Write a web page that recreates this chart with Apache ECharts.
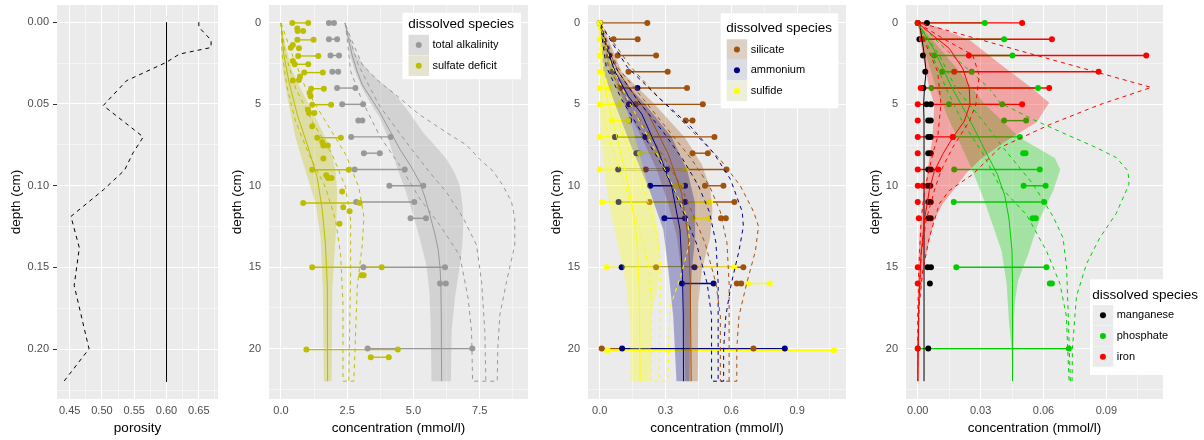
<!DOCTYPE html>
<html><head><meta charset="utf-8">
<script src="https://cdn.jsdelivr.net/npm/echarts@6/dist/echarts.min.js"></script>
<style>html,body{margin:0;padding:0;background:#fff}#c{width:1204px;height:440px}</style>
</head><body><div id="c"></div>
<script>
// ---------------- DATA ([value, depth]) ----------------
// Panel 1: porosity
const porosityDashed = [[0.650,0],[0.650,0.003],[0.669,0.011],[0.669,0.0155],[0.620,0.0195],[0.600,0.0245],[0.538,0.0358],[0.502,0.051],[0.564,0.0702],[0.548,0.080],[0.535,0.0905],[0.502,0.1026],[0.452,0.1188],[0.465,0.138],[0.457,0.161],[0.480,0.1998],[0.441,0.2197]];
const porositySolid = [[0.6,0],[0.6,0.22]];
const porTicksX = [0.45,0.50,0.55,0.60,0.65];
const porMinorX = [0.475,0.525,0.575,0.625,0.675];
const porTicksY = [0,0.05,0.10,0.15,0.20];
const porMinorY = [0.025,0.075,0.125,0.175,0.225];

// Panel 2: measured ranges [depth, v1, v2]
const alkRanges = [[0,1.81,2.00],[1,1.81,2.12],[2,1.87,2.19],[3,1.94,2.16],[4,2.12,2.81],[5,2.31,3.10],[6,2.92,3.07],[7,2.65,4.14],[8,3.13,3.73],[9,2.78,4.67],[10,4.09,5.37],[11,2.84,5.03],[12,4.89,5.47],[15,3.11,6.19],[16,6.00,6.22],[20,3.27,7.22]];
const sulfRanges = [[0,0.43,1.03],[1.04,0.62,1.23],[2.03,0.65,1.41],[2.54,0.52,1.03],[3.05,0.88,1.58],[4.04,1.14,1.62],[5.02,1.18,1.89],[7.05,1.37,2.26],[9.02,1.18,2.56],[11.06,0.84,2.97],[15.0,1.18,3.80],[20.06,0.96,4.41],[20.53,3.39,4.07]];
const sulfSingles = [[0.62,0.34],[0.63,0.5],[0.84,0.5],[0.45,1.36],[0.37,1.52],[0.68,1.56],[0.45,2.34],[0.72,3.29],[0.68,3.5],[0.45,3.54],[1.08,4.31],[1.12,4.51],[1.02,5.33],[1.06,5.53],[1.26,5.53],[1.18,6.34],[1.56,7.32],[1.60,7.52],[1.77,7.52],[1.60,8.33],[1.71,9.35],[1.78,9.53],[1.91,9.53],[2.31,10.35],[2.35,11.32],[2.59,11.57],[2.21,12.34],[3.04,15.5],[3.12,15.5]];
// Panel 2 model
const alkMean = [[2.42,0],[2.55,1],[2.69,2],[2.88,3],[3.07,3.8],[3.7,5.4],[4.1,6.6],[4.49,7.76],[4.9,8.8],[5.24,9.79],[5.45,10.8],[5.62,11.8],[5.8,12.9],[5.93,13.9],[6.0,15],[6.03,15.9],[6.05,18],[6.06,22]];
const alkLo = [[2.42,0],[2.5,1],[2.6,2],[2.8,3],[3.06,4],[3.4,5],[3.72,5.8],[4.05,7.1],[4.36,8.78],[4.7,10.3],[4.99,11.8],[5.25,13.3],[5.49,14.9],[5.6,16.5],[5.65,18.5],[5.68,22]];
const alkHi = [[2.42,0],[2.55,0.7],[2.82,1.96],[3.32,2.98],[3.8,3.7],[4.2,4.2],[4.7,5.2],[5.05,6.0],[5.37,6.74],[5.85,7.6],[6.25,8.37],[6.55,9.2],[6.75,10],[6.85,11.2],[6.88,12.4],[6.84,13.6],[6.75,14.9],[6.56,16.9],[6.44,18.9],[6.41,22]];
const alkAltLo = [[2.42,0],[2.5,1],[2.63,2.98],[3.07,4.81],[3.73,6.95],[4.49,8.78],[5.24,10.8],[5.99,12.4],[6.75,14.3],[7.06,16.9],[7.19,18.9],[7.23,22]];
const alkAltMean = [[2.42,0],[2.6,1],[2.9,2.5],[3.3,3.8],[3.73,5.12],[4.74,7.35],[5.62,9.2],[6.25,10.4],[6.88,12.0],[7.38,13.65],[7.57,15.9],[7.69,18.9],[7.73,22]];
const alkAltHi = [[2.42,0],[2.6,0.8],[3.07,2.58],[3.70,3.6],[4.39,4.5],[5.2,5.6],[6.25,6.74],[7.0,7.5],[7.5,8.37],[8.0,9.1],[8.38,10.0],[8.7,11.0],[8.82,12.0],[8.82,13.65],[8.51,15.9],[8.26,17.9],[8.18,20],[8.16,22]];
const sulfMean = [[0,0],[0.03,0.6],[0.113,1.97],[0.30,3.6],[0.616,5.63],[0.99,7.46],[1.37,9.49],[1.56,11.5],[1.68,13.6],[1.75,16.2],[1.76,22]];
const sulfLo = [[0,0],[0.02,1.5],[0.075,2.99],[0.30,5.02],[0.55,7.05],[0.93,9.09],[1.31,11.1],[1.50,13.2],[1.58,16.2],[1.62,22]];
const sulfHi = [[0,0],[0.15,1.2],[0.43,2.99],[0.80,4.21],[1.43,6.24],[1.87,7.66],[2.06,9.09],[2.12,10.3],[2.1,11.8],[2.06,13.2],[1.94,16.2],[1.91,22]];
const sulfAltLo = [[0,0],[0.05,1.97],[0.24,4.0],[0.55,6.04],[1.06,8.07],[1.68,10.1],[2.06,12.1],[2.25,14.2],[2.34,17.2],[2.34,22]];
const sulfAltMean = [[0,0],[0.18,1.97],[0.55,4.0],[1.18,6.04],[1.93,8.07],[2.44,10.1],[2.63,12.1],[2.63,15.2],[2.56,22]];
const sulfAltHi = [[0,0],[0.43,1.97],[0.93,4.0],[1.68,6.04],[2.44,8.07],[2.94,10.1],[3.13,11.9],[3.07,13.6],[2.88,16.2],[2.75,22]];

// Panel 3 measured
const silRanges = [[0,0.002,0.217],[1,0.063,0.173],[2,0.082,0.257],[3,0.131,0.310],[4,0.094,0.398],[5,0.164,0.470],[6,0.392,0.423],[7,0.07,0.523],[8,0.423,0.493],[9,0.21,0.578],[10,0.48,0.564],[11,0.227,0.614],[12,0.553,0.575],[15,0.257,0.655],[16,0.625,0.645],[20,0.009,0.701]];
const ammRanges = [[0,0.0,0.0],[2,0.043,0.043],[3,0.058,0.058],[4,0.172,0.172],[5,0.134,0.134],[6,0.134,0.134],[7,0.07,0.208],[8,0.167,0.177],[9,0.084,0.306],[10,0.23,0.389],[11,0.086,0.389],[12,0.295,0.389],[15,0.10,0.432],[16,0.375,0.519],[20,0.102,0.844]];
const sulfideRanges = [[0,0,0],[1,0,0],[2,0,0],[3,0,0],[4,0,0.043],[5,0,0.09],[6,0.055,0.13],[7,0,0.23],[8,0.184,0.265],[9,0,0.392],[10,0.347,0.371],[11,0.012,0.503],[12,0.427,0.499],[15,0.032,0.614],[16,0.676,0.775],[20.1,0.036,1.069]];
const sulfideSingles = [[0.005,0.3]];
// Panel 3 model
const silMean = [[0,0],[0.035,1.5],[0.085,3.0],[0.15,4.3],[0.222,5.6],[0.313,8.07],[0.374,10.5],[0.404,13.2],[0.413,16],[0.417,22]];
const silLo = [[0,0],[0.02,1.5],[0.05,3],[0.11,5],[0.19,7],[0.26,9],[0.31,11],[0.35,13],[0.38,16],[0.39,22]];
const silHi = [[0,0],[0.04,1],[0.10,3],[0.25,5],[0.389,7.05],[0.465,8.68],[0.503,10.1],[0.514,11.5],[0.503,13.2],[0.465,15.2],[0.45,17.2],[0.447,22]];
const silAltLo = [[0,0],[0.04,2.7],[0.12,4.7],[0.22,6.7],[0.3,8.4],[0.37,10],[0.42,11.6],[0.48,13.5],[0.53,16],[0.55,18],[0.55,22]];
const silAltMean = [[0,0],[0.08,2.7],[0.2,4.7],[0.32,6.7],[0.42,8.4],[0.5,10],[0.55,11.6],[0.58,13.5],[0.59,16],[0.59,22]];
const silAltHi = [[0,0],[0.14,2.68],[0.277,4.7],[0.429,6.75],[0.55,8.4],[0.641,10],[0.702,11.6],[0.724,12.5],[0.71,14],[0.67,16],[0.635,18],[0.625,20],[0.625,22]];
const ammMean = [[0,0],[0.03,1.5],[0.07,3.0],[0.13,4.5],[0.192,5.6],[0.268,7.9],[0.329,10.1],[0.366,12.7],[0.377,15.5],[0.381,18],[0.382,22]];
const ammLo = [[0,0],[0.017,3],[0.07,5],[0.146,7.66],[0.222,10.1],[0.29,12.7],[0.313,15.2],[0.335,18],[0.35,22]];
const ammHi = [[0,0],[0.07,3],[0.207,5],[0.328,7],[0.40,9.1],[0.435,11.1],[0.435,13.2],[0.42,15.2],[0.412,18],[0.41,22]];
const ammAltLo = [[0,0],[0.03,2.7],[0.1,4.7],[0.19,6.7],[0.27,8.4],[0.33,10],[0.38,11.6],[0.44,13.5],[0.49,16],[0.51,18],[0.51,22]];
const ammAltMean = [[0,0],[0.07,2.7],[0.17,4.7],[0.29,6.7],[0.38,8.4],[0.45,10],[0.5,11.6],[0.53,13.5],[0.54,16],[0.54,22]];
const ammAltHi = [[0,0],[0.125,2.7],[0.262,4.5],[0.413,6.34],[0.52,8],[0.596,9.6],[0.65,11.6],[0.655,12.5],[0.635,14],[0.6,16],[0.575,18],[0.565,20],[0.565,22]];
const sulMean = [[0,0],[0.003,1.5],[0.009,3],[0.04,5],[0.078,7],[0.116,9.1],[0.146,11.1],[0.169,13.2],[0.18,16.2],[0.184,22]];
const sulLo = [[0,0],[0,4],[0.005,7],[0.03,10],[0.055,12],[0.09,14],[0.12,16],[0.14,18.5],[0.14,22]];
const sulHi = [[0,0],[0.04,2],[0.09,4],[0.15,6.5],[0.2,9],[0.245,11],[0.27,13],[0.277,15],[0.26,16.5],[0.235,18],[0.232,22]];
const sulAltLo = [[0,0],[0,3],[0.01,5],[0.04,7],[0.09,9],[0.14,11],[0.19,13],[0.225,15],[0.235,17],[0.235,22]];
const sulAltMean = [[0,0],[0.02,3],[0.06,5],[0.11,7],[0.17,9],[0.22,11],[0.26,13],[0.28,15],[0.275,17],[0.27,22]];
const sulAltHi = [[0,0],[0.05,2.5],[0.12,4.5],[0.2,6.5],[0.28,8.5],[0.35,10.5],[0.4,12],[0.41,13.5],[0.37,15.5],[0.32,17.5],[0.31,22]];

// Panel 4 measured
const mnRanges = [[0,0.0,0.0044],[1,0.0008,0.0008],[2,0.0025,0.0025],[3,0.0036,0.0036],[4,0.0027,0.0027],[5,0.0042,0.0063],[6,0.0050,0.0062],[7,0.0050,0.0062],[8,0.0050,0.0062],[9,0.0050,0.0062],[10,0.0048,0.0060],[11,0.0050,0.0062],[12,0.0050,0.0062],[15,0.0047,0.0063],[16,0.0058,0.0058],[20,0.005,0.005]];
const poRanges = [[0,0.0,0.032],[1,0.002,0.0412],[2,0.0079,0.0452],[3,0.0117,0.0257],[4,0.0065,0.0574],[5,0.0149,0.0403],[6,0.0412,0.0517],[7,0.017,0.0487],[8,0.0503,0.0514],[9,0.0174,0.0582],[10,0.0505,0.061],[11,0.0172,0.0603],[12,0.0548,0.0563],[15,0.0184,0.0614],[16,0.063,0.064],[20,0.0,0.0721]];
const feRanges = [[0,0.0,0.0498],[1,0.0024,0.064],[2,0.0244,0.109],[3,0.0174,0.0863],[4,0.0014,0.0627],[5,0.0,0.0498],[6,0,0],[7,0.0,0.0166],[8,0,0],[9,0.0,0.0098],[10,0.0,0.0024],[11,0,0],[12,0.0005,0.0005],[15,0,0],[16,0,0],[20,0,0]];
// Panel 4 model
const mnMean = [[0.0008,0],[0.002,1],[0.0032,2],[0.004,3],[0.0032,4],[0.0028,5],[0.003,6],[0.003,22]];
const poMean = [[0,0],[0.008,1.7],[0.016,3.9],[0.025,6.0],[0.032,7.8],[0.038,9.3],[0.0415,10.6],[0.0435,12],[0.045,14],[0.0452,16],[0.0452,22]];
const poLo = [[0,0],[0.004,2],[0.0087,4],[0.015,6],[0.021,7.6],[0.0262,9.1],[0.032,11],[0.036,12.5],[0.040,14],[0.0424,16],[0.0436,18.5],[0.0448,20],[0.0452,22]];
const poHi = [[0,0],[0.01,1.5],[0.02,3],[0.032,5],[0.0487,7.05],[0.0654,8.3],[0.068,9],[0.0646,10.3],[0.058,12.1],[0.0527,14.2],[0.0479,15.8],[0.0465,17],[0.0459,18.1],[0.0455,20],[0.0452,22]];
const poAltLo = [[0,0],[0.007,2],[0.0135,4],[0.021,6],[0.031,8],[0.039,10],[0.052,11.8],[0.0614,14],[0.0678,16],[0.0709,18],[0.0722,22]];
const poAltMean = [[0,0],[0.0103,2],[0.0182,4],[0.031,6],[0.041,7.7],[0.055,9.9],[0.0646,11.9],[0.0693,13.2],[0.071,15],[0.0718,18],[0.0728,22]];
const poAltHi = [[0,0],[0.0166,2],[0.034,4],[0.0392,4.9],[0.055,5.93],[0.0709,6.85],[0.0852,7.66],[0.0947,8.27],[0.1003,9.09],[0.1008,9.9],[0.0947,11.7],[0.0868,13.2],[0.0805,14.8],[0.0757,16.8],[0.0738,20],[0.0736,22]];
const feMean = [[0,0],[0.0071,0.75],[0.015,1.56],[0.0214,2.78],[0.0246,4],[0.0249,5.02],[0.0222,6.04],[0.0166,7.05],[0.0119,8.07],[0.0079,9.1],[0.0055,10.3],[0.0032,12.1],[0.0016,14.2],[0.0005,17.2],[0.0001,22]];
const feLo = [[0,0],[0.0012,1],[0.0024,2],[0.0055,4],[0.0079,5],[0.0071,7],[0.0047,9],[0.0024,11],[0.0008,13],[0,16],[0,22]];
const feHi = [[0,0],[0.009,0.24],[0.0249,1.06],[0.0408,2.68],[0.0535,3.9],[0.0627,4.9],[0.0567,6.1],[0.0408,7.36],[0.0297,8.4],[0.0233,9.2],[0.0186,10],[0.0119,11.1],[0.0079,12.1],[0.004,14.2],[0.0008,17.2],[0,19],[0,22]];
const feAltLo = [[0,0],[0.004,1.36],[0.0095,3],[0.0111,5],[0.0095,7],[0.0071,8.07],[0.0032,10.3],[0.0016,12.1],[0.0005,15.2],[0,18],[0,22]];
const feAltMean = [[0,0],[0.012,0.95],[0.0262,1.97],[0.0293,3.2],[0.0277,5.02],[0.0246,6.04],[0.0166,7.66],[0.011,9.1],[0.0079,10.3],[0.004,12.1],[0.0016,14.2],[0.0003,18],[0,22]];
const feAltHi = [[0,0],[0.004,0.1],[0.1114,3.96],[0.0868,5.02],[0.063,6.24],[0.0392,7.66],[0.0262,9.3],[0.015,10.3],[0.0103,11.1],[0.0055,13.2],[0.0024,15.2],[0.0008,17.2],[0,20],[0,22]];

const depthTicks = [0,5,10,15,20];
const depthMinor = [2.5,7.5,12.5,17.5,22.5];
const conc2Ticks = [0,2.5,5,7.5];
const conc2Minor = [1.25,3.75,6.25,8.75];
const conc3Ticks = [0,0.3,0.6,0.9];
const conc3Minor = [0.15,0.45,0.75,1.05];
const conc4Ticks = [0,0.03,0.06,0.09];
const conc4Minor = [0.015,0.045,0.075,0.105];

// ---------------- BUILD ----------------
const FONT = '"Liberation Sans", Arial, Helvetica, sans-serif';
const C = {alk:'#999999', sulf:'#BEBE00', sil:'#A0520D', amm:'#000080', sulfide:'#FFFF00', mn:'#000000', po:'#00CD00', fe:'#FF0000'};
function rgba(hex,a){const n=parseInt(hex.slice(1),16);return `rgba(${n>>16},${(n>>8)&255},${n&255},${a})`;}

const ext = [
  {x:[0.4304,0.6797], y:[-0.0105,0.2305]},
  {x:[-0.45,9.32], y:[-1.1,23.1]},
  {x:[-0.0535,1.123], y:[-1.1,23.1]},
  {x:[-0.0056,0.117], y:[-1.1,23.1]}
];
const grids = [
  {left:57, top:5, width:161, height:395},
  {left:269, top:5, width:259, height:395},
  {left:588, top:5, width:258, height:395},
  {left:906, top:5, width:257, height:395}
].map(g=>Object.assign(g,{show:false, containLabel:false}));

function xAx(i,ticks,dec,name){
  return {type:'value', gridIndex:i, min:ext[i].x[0], max:ext[i].x[1], name, nameLocation:'middle', nameGap:20,
    nameTextStyle:{color:'#000', fontSize:13.5, fontFamily:FONT},
    axisLine:{show:false}, splitLine:{show:false},
    axisTick:{show:true, length:4, lineStyle:{color:'#333', width:1}, customValues:ticks},
    axisLabel:{customValues:ticks, formatter:v=>Number(v).toFixed(dec), color:'#4D4D4D', fontSize:11, fontFamily:FONT, margin:6}};
}
function yAx(i,ticks,dec,gap){
  return {type:'value', gridIndex:i, min:ext[i].y[0], max:ext[i].y[1], inverse:true, name:'depth (cm)', nameLocation:'middle', nameGap:gap, nameRotate:90,
    nameTextStyle:{color:'#000', fontSize:13.5, fontFamily:FONT},
    axisLine:{show:false}, splitLine:{show:false},
    axisTick:{show:true, length:4, lineStyle:{color:'#333', width:1}, customValues:ticks},
    axisLabel:{customValues:ticks, formatter:v=>Number(v).toFixed(dec), color:'#4D4D4D', fontSize:11, fontFamily:FONT, margin:8}};
}

const Z = {panel:8, seg:10, pt:10, rib:11, line:12};

// grey panel background + white grid lines (as filled, pixel-snapped rects), placed through the axes' scales
function panel(i, xMaj, xMin, yMaj, yMin){
  const e = ext[i];
  const lines = [];
  xMin.forEach(v=>lines.push([v,0,0])); yMin.forEach(v=>lines.push([v,1,0]));
  xMaj.forEach(v=>lines.push([v,0,1])); yMaj.forEach(v=>lines.push([v,1,1]));
  return {type:'custom', xAxisIndex:i, yAxisIndex:i, z:Z.panel, silent:true, animation:false, clip:false,
    data:[[e.x[0], e.y[0]]],
    renderItem(params, api){
      const tl = api.coord([e.x[0], e.y[0]]), br = api.coord([e.x[1], e.y[1]]);
      const x0=Math.min(tl[0],br[0]), x1=Math.max(tl[0],br[0]), y0=Math.min(tl[1],br[1]), y1=Math.max(tl[1],br[1]);
      const children = [{type:'rect', z2:0, shape:{x:x0, y:y0, width:x1-x0, height:y1-y0}, style:{fill:'#EBEBEB'}}];
      lines.forEach(([v,o,m])=>{
        const col = m ? '#FFFFFF' : '#F5F5F5';
        if(o===0){
          const px = Math.round(api.coord([v,e.y[0]])[0] - 0.5);
          children.push({type:'rect', z2:1, shape:{x:px, y:y0, width:1, height:y1-y0}, style:{fill:col}});
        } else {
          const py = Math.round(api.coord([e.x[0],v])[1] - 0.5);
          children.push({type:'rect', z2:1, shape:{x:x0, y:py, width:x1-x0, height:1}, style:{fill:col}});
        }
      });
      return {type:'group', children};
    }};
}
function ribbon(i, lo, hi, color){
  return {type:'custom', xAxisIndex:i, yAxisIndex:i, z:Z.rib, silent:true, animation:false, data:[lo[0]],
    renderItem(params, api){
      const pts = lo.map(p=>api.coord(p)).concat(hi.slice().reverse().map(p=>api.coord(p)));
      return {type:'polygon', shape:{points:pts}, style:{fill:rgba(color,0.3)}};
    }};
}
function segs(i, ranges, color){
  return {type:'custom', xAxisIndex:i, yAxisIndex:i, z:Z.seg, silent:true, animation:false,
    data: ranges.map(r=>[r[1], r[0], r[2]]),
    renderItem(params, api){
      const d=api.value(1); const p1=api.coord([api.value(0),d]), p2=api.coord([api.value(2),d]);
      return {type:'line', shape:{x1:p1[0],y1:p1[1],x2:p2[0],y2:p2[1]}, style:{stroke:color, lineWidth:1.4}};
    }};
}
function pts(i, ranges, singles, color){
  const data=[];
  ranges.forEach(r=>{data.push([r[1],r[0]]); if(r[2]!==r[1]) data.push([r[2],r[0]]);});
  (singles||[]).forEach(s=>data.push(s));
  return {type:'scatter', xAxisIndex:i, yAxisIndex:i, z:Z.pt, silent:true, animation:false, symbolSize:6,
    itemStyle:{color, opacity:1}, data};
}
function line(i, data, color, dashed, w){
  return {type:'line', xAxisIndex:i, yAxisIndex:i, z:Z.line, silent:true, animation:false, showSymbol:false, symbol:'none',
    data, lineStyle:{color, width:w||1, type: dashed?[4,4]:'solid'}};
}
function outline(lo, hi){ return lo.concat(hi.slice().reverse()); }

const series = [];
series.push(panel(0,porTicksX,porMinorX,porTicksY,porMinorY));
series.push(panel(1,conc2Ticks,conc2Minor,depthTicks,depthMinor));
series.push(panel(2,conc3Ticks,conc3Minor,depthTicks,depthMinor));
series.push(panel(3,conc4Ticks,conc4Minor,depthTicks,depthMinor));
// panel 1
series.push(line(0, porosityDashed, '#000', true));
series.push(line(0, porositySolid, '#000', false));
// panel 2
[[alkRanges,null,C.alk],[sulfRanges,sulfSingles,C.sulf]].forEach(([r,s,c])=>{series.push(segs(1,r,c)); series.push(pts(1,r,s,c));});
series.push(ribbon(1,alkLo,alkHi,C.alk), ribbon(1,sulfLo,sulfHi,C.sulf));
series.push(line(1,alkMean,C.alk), line(1,outline(alkAltLo,alkAltHi),C.alk,true), line(1,alkAltMean,C.alk,true));
series.push(line(1,sulfMean,C.sulf), line(1,outline(sulfAltLo,sulfAltHi),C.sulf,true), line(1,sulfAltMean,C.sulf,true));
// panel 3
[[silRanges,null,C.sil],[ammRanges,null,C.amm],[sulfideRanges,sulfideSingles,C.sulfide]].forEach(([r,s,c])=>{series.push(segs(2,r,c)); series.push(pts(2,r,s,c));});
series.push(ribbon(2,silLo,silHi,C.sil), ribbon(2,ammLo,ammHi,C.amm), ribbon(2,sulLo,sulHi,C.sulfide));
[[silMean,silAltLo,silAltHi,silAltMean,C.sil],[ammMean,ammAltLo,ammAltHi,ammAltMean,C.amm],[sulMean,sulAltLo,sulAltHi,sulAltMean,C.sulfide]].forEach(([m,lo,hi,am,c])=>{
  series.push(line(2,m,c), line(2,outline(lo,hi),c,true), line(2,am,c,true));
});
// panel 4
[[mnRanges,C.mn],[poRanges,C.po],[feRanges,C.fe]].forEach(([r,c])=>{series.push(segs(3,r,c)); series.push(pts(3,r,null,c));});
series.push(ribbon(3,poLo,poHi,C.po), ribbon(3,feLo,feHi,C.fe));
series.push(line(3,mnMean,C.mn));
series.push(line(3,poMean,C.po), line(3,outline(poAltLo,poAltHi),C.po,true), line(3,poAltMean,C.po,true));
series.push(line(3,feMean,C.fe), line(3,outline(feAltLo,feAltHi),C.fe,true), line(3,feAltMean,C.fe,true));

// legends (graphic)
function legend(x, y, w, h, tx, ty, kx, ky0, items){
  const els = [{type:'rect', shape:{x, y, width:w, height:h}, style:{fill:'#FFFFFF'}, z:30},
    {type:'text', x:tx, y:ty, style:{text:'dissolved species', fill:'#000', fontSize:13.5, fontFamily:FONT, verticalAlign:'middle', align:'left'}, z:31}];
  items.forEach((it,k)=>{
    const ky = ky0 + k*20.7;
    els.push({type:'rect', shape:{x:kx, y:ky, width:20.5, height:20.5}, style:{fill:it.bg}, z:31});
    els.push({type:'circle', shape:{cx:kx+10.25, cy:ky+10.25, r:3}, style:{fill:it.c}, z:32});
    els.push({type:'text', x:kx+24, y:ky+10.25, style:{text:it.t, fill:'#000', fontSize:11, fontFamily:FONT, verticalAlign:'middle', align:'left'}, z:32});
  });
  return els;
}
const graphic = [].concat(
  legend(402.5,12.7,118.5,66.5, 408.3,24.5, 408.5,34.8, [{t:'total alkalinity',c:C.alk,bg:'#DCDCDC'},{t:'sulfate deficit',c:C.sulf,bg:'#E4E4D0'}]),
  legend(720.7,13.3,117.6,95, 726.3,28.5, 726.7,39.3, [{t:'silicate',c:C.sil,bg:'#DDD0C4'},{t:'ammonium',c:C.amm,bg:'#DCDCE6'},{t:'sulfide',c:C.sulfide,bg:'#EEEEDD'}]),
  legend(1090,279.3,130,95.7, 1092.3,295, 1092.7,305, [{t:'manganese',c:C.mn,bg:'#EBEBEB'},{t:'phosphate',c:C.po,bg:'#EBEBEB'},{t:'iron',c:C.fe,bg:'#EBEBEB'}])
);

const option = {
  animation:false,
  grid: grids,
  xAxis: [xAx(0,porTicksX,2,'porosity'), xAx(1,conc2Ticks,1,'concentration (mmol/l)'),
          xAx(2,conc3Ticks,1,'concentration (mmol/l)'), xAx(3,conc4Ticks,2,'concentration (mmol/l)')],
  yAxis: [yAx(0,porTicksY,2,32), yAx(1,depthTicks,0,25), yAx(2,depthTicks,0,25), yAx(3,depthTicks,0,24)],
  series, graphic
};
const chart = echarts.init(document.getElementById('c'), null, {renderer:'canvas'});
chart.setOption(option);
</script></body></html>
